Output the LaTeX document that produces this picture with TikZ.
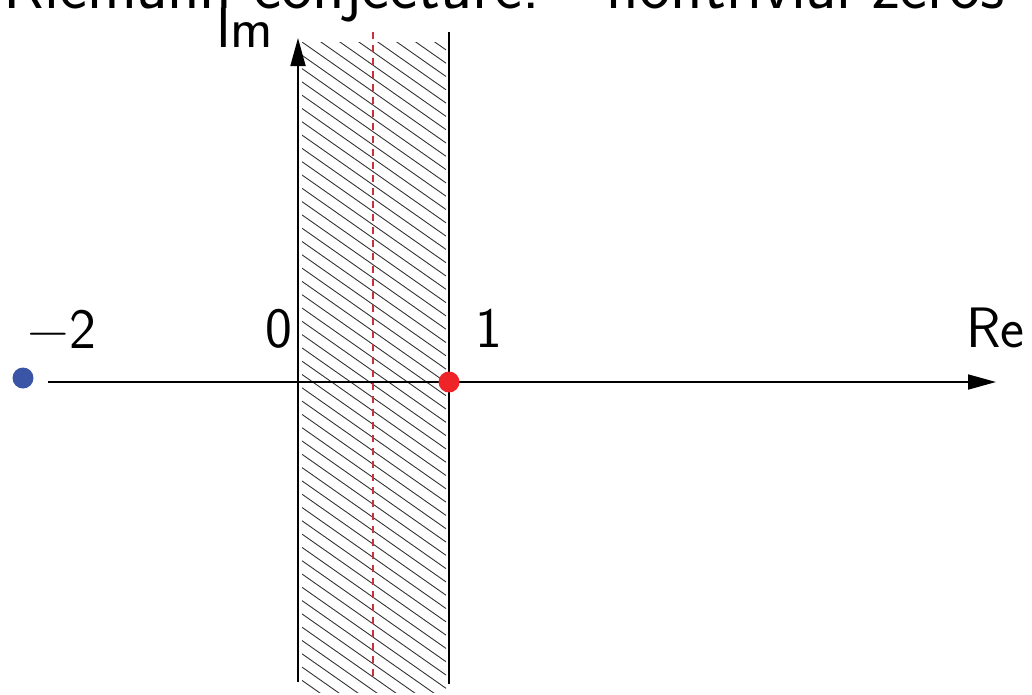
\documentclass[tikz,border=0pt]{standalone}
\usetikzlibrary{arrows.meta}
\definecolor{zred}{HTML}{EE2428}
\definecolor{zblue}{HTML}{3A55A5}
\definecolor{dred}{HTML}{C8323C}
\begin{document}
\begin{tikzpicture}[x=1pt,y=-1pt,
  lbl/.style={font=\fontsize{57}{64}\sffamily\selectfont, inner sep=0pt, anchor=base},
  ttl/.style={font=\fontsize{67}{76}\sffamily\selectfont, inner sep=0pt, anchor=base east},
  axis/.style={line width=1.8pt, -{Triangle[length=28pt,width=15pt]}},
  hatch/.style={line width=0.9pt, black!80},
  bound/.style={line width=1.4pt},
  crit/.style={line width=1.3pt, dred, dash pattern=on 7pt off 6pt},
  zero/.style={circle, inner sep=0pt, minimum size=21pt}]
\useasboundingbox (0,0) rectangle (1032,694);
% title (cut off at top)
\node[ttl] (title) at (1005,8) {Riemann conjecture:\quad nontrivial zeros};
% hatched strip
\begin{scope}
\clip (302,42) rectangle (446,692);
\foreach \i in {-10,...,52} {
  \draw[hatch] (302,{42+13.3*\i}) -- (446,{42+13.3*\i+101});
}
\end{scope}
% coordinates
\coordinate (reS) at (48,382);
\coordinate (reE) at (996,382);
\coordinate (imS) at (298,682);
\coordinate (imE) at (298,38);
\coordinate (bT) at (449,32);
\coordinate (bB) at (449,684);
\coordinate (cT) at (373,32);
\coordinate (cB) at (373,680);
\draw[bound] (bT) -- (bB);
\draw[crit] (cT) -- (cB);
\draw[axis] (reS) -- (reE);
\draw[axis] (imS) -- (imE);
% zeros
\node[zero, fill=zred] (one) at (449,382) {};
\node[zero, fill=zblue] (mtwo) at (23,378) {};
% labels
\node[lbl] (lm2) at (62,348) {−2};
\node[lbl] (l0) at (278.5,347) {0};
\node[lbl] (l1) at (489,347) {1};
\node[lbl, anchor=base west] (lre) at (966,347) {Re};
\node[lbl, anchor=base west] (lim) at (216,47) {Im};
\end{tikzpicture}
\end{document}
